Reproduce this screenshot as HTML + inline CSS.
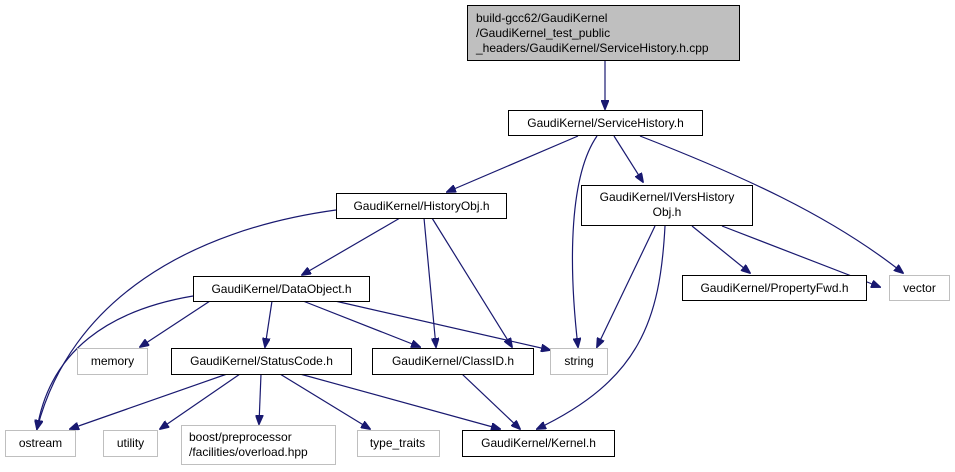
<!DOCTYPE html>
<html><head><meta charset="utf-8"><style>
html,body{margin:0;padding:0;background:#fff;}
svg{display:block;}
text{font-family:"Liberation Sans",sans-serif;font-size:12px;fill:#000;}
</style></head><body>
<svg width="955" height="472" viewBox="0 0 955 472" xmlns="http://www.w3.org/2000/svg">
<defs><marker id="a" markerWidth="10" markerHeight="8" refX="9" refY="4" orient="auto" markerUnits="userSpaceOnUse"><path d="M0,0 L10,4 L0,8 z" fill="#191970" stroke="#191970"/></marker></defs>
<g fill="none" stroke="#191970" stroke-width="1.2" marker-end="url(#a)">
<path d="M605,60 L605,109"/>
<path d="M578,136 L447,192"/>
<path d="M597,136 C570,175 568,260 578,347"/>
<path d="M614,136 L643,182"/>
<path d="M640,136 C740,175 830,215 903,273"/>
<path d="M336,210 C190,230 70,300 37,429"/>
<path d="M400,218 L302,275"/>
<path d="M424,218 L436,347"/>
<path d="M432,218 L512,347"/>
<path d="M655,226 L597,347"/>
<path d="M665,226 C660,320 640,380 537,429"/>
<path d="M692,226 L750,273"/>
<path d="M722,226 L880,287"/>
<path d="M193,296 C110,310 50,350 37,429"/>
<path d="M210,301 L140,347"/>
<path d="M272,301 L265,347"/>
<path d="M303,301 L420,347"/>
<path d="M335,301 L550,350"/>
<path d="M227,374 L70,429"/>
<path d="M240,374 L160,429"/>
<path d="M261,374 L259,424"/>
<path d="M280,374 L370,429"/>
<path d="M300,374 L500,429"/>
<path d="M462,374 L520,429"/>
</g>
<g stroke-width="1">
<rect x="467.5" y="5.5" width="272" height="55" fill="#bfbfbf" stroke="#000"/>
<rect x="508.5" y="110.5" width="194" height="25" fill="#fff" stroke="#000"/>
<rect x="336.5" y="193.5" width="170" height="25" fill="#fff" stroke="#000"/>
<rect x="581.5" y="185.5" width="171" height="40" fill="#fff" stroke="#000"/>
<rect x="193.5" y="276.5" width="176" height="25" fill="#fff" stroke="#000"/>
<rect x="682.5" y="275.5" width="184" height="25" fill="#fff" stroke="#000"/>
<rect x="889.5" y="275.5" width="60" height="25" fill="#fff" stroke="#bfbfbf"/>
<rect x="77.5" y="348.5" width="70" height="26" fill="#fff" stroke="#bfbfbf"/>
<rect x="171.5" y="348.5" width="180" height="26" fill="#fff" stroke="#000"/>
<rect x="372.5" y="348.5" width="161" height="26" fill="#fff" stroke="#000"/>
<rect x="550.5" y="348.5" width="57" height="26" fill="#fff" stroke="#bfbfbf"/>
<rect x="5.5" y="430.5" width="70" height="26" fill="#fff" stroke="#bfbfbf"/>
<rect x="103.5" y="430.5" width="54" height="26" fill="#fff" stroke="#bfbfbf"/>
<rect x="181.5" y="425.5" width="154" height="39" fill="#fff" stroke="#bfbfbf"/>
<rect x="357.5" y="430.5" width="82" height="26" fill="#fff" stroke="#bfbfbf"/>
<rect x="462.5" y="430.5" width="152" height="26" fill="#fff" stroke="#000"/>
</g>
<text x="476" y="22">build-gcc62/GaudiKernel</text>
<text x="476" y="37">/GaudiKernel_test_public</text>
<text x="476" y="52">_headers/GaudiKernel/ServiceHistory.h.cpp</text>
<g text-anchor="middle">
<text x="605.5" y="127">GaudiKernel/ServiceHistory.h</text>
<text x="421.5" y="210">GaudiKernel/HistoryObj.h</text>
<text x="667" y="201">GaudiKernel/IVersHistory</text>
<text x="667" y="216">Obj.h</text>
<text x="281.5" y="293">GaudiKernel/DataObject.h</text>
<text x="774.5" y="292">GaudiKernel/PropertyFwd.h</text>
<text x="919.5" y="292">vector</text>
<text x="112.5" y="365">memory</text>
<text x="261.5" y="365">GaudiKernel/StatusCode.h</text>
<text x="453" y="365">GaudiKernel/ClassID.h</text>
<text x="579" y="365">string</text>
<text x="40.5" y="447">ostream</text>
<text x="130.5" y="447">utility</text>
<text x="397.5" y="447">type_traits</text>
<text x="538.5" y="447">GaudiKernel/Kernel.h</text>
</g>
<text x="189" y="441">boost/preprocessor</text>
<text x="189" y="456">/facilities/overload.hpp</text>
</svg>
</body></html>
